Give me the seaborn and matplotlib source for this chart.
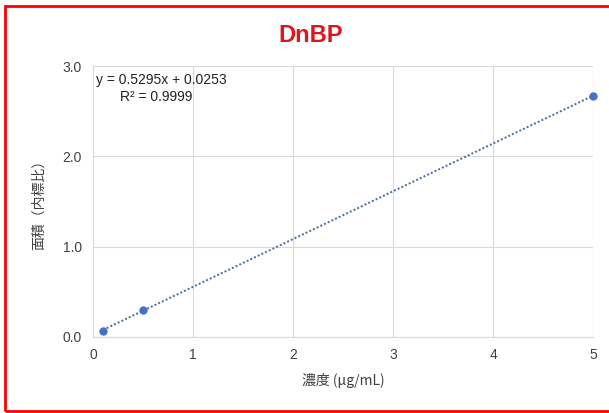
import numpy as np
import pandas as pd
import seaborn as sns
import matplotlib
matplotlib.use("Agg")
import matplotlib.pyplot as plt
from matplotlib.patches import Rectangle

conc = [0.1, 0.5, 5.0]
area_ratio = [0.07, 0.30, 2.67]
x_ticks = [0, 1, 2, 3, 4, 5]
y_ticks = [0.0, 1.0, 2.0, 3.0]
title = "DnBP"
eq_text = "y = 0.5295x + 0.0253"
r2_text = "R² = 0.9999"
xlabel = "濃度 (μg/mL)"
ylabel = "面積（内標比）"

sns.set_style("white")
plt.rcParams['font.family'] = ['Liberation Sans', 'Noto Sans CJK JP', 'DejaVu Sans']

df = pd.DataFrame({"conc": conc, "ratio": area_ratio})

fig = plt.figure(figsize=(6.09, 4.13), dpi=100)
ax = fig.add_axes([93/609, 1-337/413, 500/609, 271/413])

sns.regplot(data=df, x="conc", y="ratio", ax=ax, ci=None, truncate=True,
            scatter_kws=dict(s=36, color="#4472C4", alpha=1, zorder=3, linewidths=0, clip_on=False),
            line_kws=dict(color="#4A6A9E", linestyle=(0, (1, 1.1)), linewidth=1.4))

ax.set_xlim(0, 5)
ax.set_ylim(0, 3.0)
ax.set_xticks(x_ticks)
ax.set_yticks(y_ticks)
ax.set_yticklabels([f"{v:.1f}" for v in y_ticks])
ax.grid(True, color="#D9D9D9", linewidth=0.8)
ax.set_axisbelow(True)
for s in ["top", "right", "left"]:
    ax.spines[s].set_visible(False)
ax.spines["bottom"].set_color("#D9D9D9")
ax.tick_params(axis="both", length=0, labelsize=10, colors="#404040", pad=8)
ax.set_xlabel(xlabel, fontsize=10, color="#404040", labelpad=8,
              family=['Noto Sans CJK JP', 'DejaVu Sans'])
ax.set_ylabel(ylabel, fontsize=10, color="#404040", labelpad=12,
              family=['Noto Sans CJK JP', 'DejaVu Sans'])

ax.text(0.005, 0.975, eq_text, transform=ax.transAxes, fontsize=10, color="#222222", va="top", ha="left")
ax.text(0.055, 0.91, r2_text, transform=ax.transAxes, fontsize=10, color="#222222", va="top", ha="left")

fig.text(311/609, 1-35/413, title, fontsize=17, fontweight="bold", color="#E0141E", ha="center", va="center")

fig.patches.append(Rectangle((5/609, 2/413), 1.0, 405/413, transform=fig.transFigure,
                             fill=False, edgecolor="#FF0000", linewidth=2, clip_on=False))

fig.savefig("out.png", dpi=100)
